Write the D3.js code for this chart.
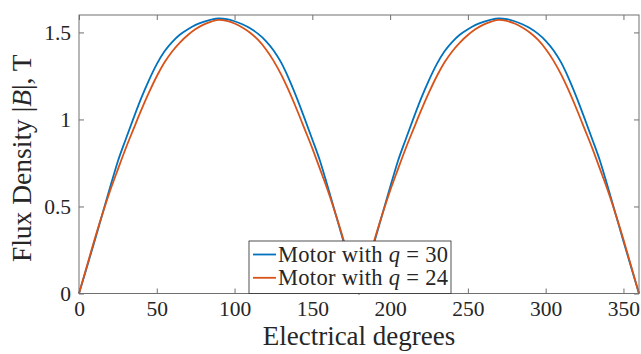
<!DOCTYPE html>
<html>
<head>
<meta charset="utf-8">
<script src="https://cdn.jsdelivr.net/npm/d3@7"></script>
<style>
  body { margin: 0; background: #fff; }
  svg { display: block; }
  svg text { font-family: "Liberation Serif", "DejaVu Serif", serif; }
</style>
</head>
<body>
<div id="plot"></div>
<script>
//Data;
const degrees = [
  0, 5, 10, 15, 20, 25, 30, 35, 40, 45, 50, 55, 60, 65, 70, 75, 80, 85, 90,
  95, 100, 105, 110, 115, 120, 125, 130, 135, 140, 145, 150, 155, 160, 165, 170, 175, 180,
  185, 190, 195, 200, 205, 210, 215, 220, 225, 230, 235, 240, 245, 250, 255, 260, 265, 270,
  275, 280, 285, 290, 295, 300, 305, 310, 315, 320, 325, 330, 335, 340, 345, 350, 355, 360
];
const fluxQ30 = [
  0, 0.15, 0.30, 0.455, 0.61, 0.76, 0.885, 1.006, 1.122, 1.226, 1.318, 1.392, 1.446, 1.488, 1.518, 1.543, 1.561, 1.574, 1.58,
  1.576, 1.564, 1.547, 1.524, 1.493, 1.452, 1.398, 1.326, 1.232, 1.124, 1.006, 0.885, 0.76, 0.61, 0.455, 0.30, 0.15, 0,
  0.15, 0.30, 0.455, 0.61, 0.76, 0.885, 1.006, 1.122, 1.226, 1.318, 1.392, 1.446, 1.488, 1.518, 1.543, 1.561, 1.574, 1.58,
  1.576, 1.564, 1.547, 1.524, 1.493, 1.452, 1.398, 1.326, 1.232, 1.124, 1.006, 0.885, 0.76, 0.61, 0.455, 0.30, 0.15, 0
];
const fluxQ24 = [
  0, 0.155, 0.31, 0.455, 0.59, 0.713, 0.833, 0.944, 1.053, 1.155, 1.248, 1.328, 1.392, 1.443, 1.485, 1.519, 1.545, 1.562, 1.572,
  1.566, 1.551, 1.528, 1.498, 1.458, 1.405, 1.338, 1.257, 1.162, 1.057, 0.946, 0.834, 0.713, 0.59, 0.455, 0.31, 0.155, 0,
  0.155, 0.31, 0.455, 0.59, 0.713, 0.833, 0.944, 1.053, 1.155, 1.248, 1.328, 1.392, 1.443, 1.485, 1.519, 1.545, 1.562, 1.572,
  1.566, 1.551, 1.528, 1.498, 1.458, 1.405, 1.338, 1.257, 1.162, 1.057, 0.946, 0.834, 0.713, 0.59, 0.455, 0.31, 0.155, 0
];
const xTicks = [0, 50, 100, 150, 200, 250, 300, 350];
const yTicks = [0, 0.5, 1, 1.5];
const seriesNames = ["30", "24"];
const seriesColors = ["#0072BD", "#D95319"];

//Set Height and Width Vars;
const w = 641;
const h = 354;
const padLeft = 79, padRight = 639, padTop = 15, padBottom = 293.5;
const serif = "'Liberation Serif', 'DejaVu Serif', serif";

//Initialize SVG;
const svg = d3.select("#plot")
  .append("svg")
    .attr("width", w)
    .attr("height", h);

svg.append("rect")
  .attr("width", w)
  .attr("height", h)
  .attr("fill", "#fff");

//Scales;
const xScale = d3.scaleLinear().domain([0, 360]).range([padLeft, padRight]);
const yScale = d3.scaleLinear().domain([0, 1.6]).range([padBottom, padTop]);

//Lines;
const series = [fluxQ30, fluxQ24];
const line = d3.line()
  .x(function(d, i) { return xScale(degrees[i]); })
  .y(function(d) { return yScale(d); })
  .curve(d3.curveMonotoneX);

svg.append("g")
  .attr("class", "plotArea")
  .selectAll("path")
  .data(series)
  .enter()
  .append("path")
    .attr("d", line)
    .attr("fill", "none")
    .attr("stroke", function(d, i) { return seriesColors[i]; })
    .attr("stroke-width", 1.8)
    .attr("stroke-linejoin", "round");

//Axes;
const axisColor = "#262626";
const xAxis = d3.axisBottom(xScale).tickValues(xTicks).tickFormat(d3.format("d"))
  .tickSizeInner(-5).tickSizeOuter(0).tickPadding(7);
const yAxis = d3.axisLeft(yScale).tickValues(yTicks).tickFormat(function(d) { return String(d); })
  .tickSizeInner(-5).tickSizeOuter(0).tickPadding(8);
const xTop = d3.axisTop(xScale).tickValues(xTicks).tickFormat("").tickSizeInner(-5).tickSizeOuter(0);
const yRight = d3.axisRight(yScale).tickValues(yTicks).tickFormat("").tickSizeInner(-5).tickSizeOuter(0);

const gx = svg.append("g").attr("transform", "translate(0," + padBottom + ")").call(xAxis);
const gy = svg.append("g").attr("transform", "translate(" + padLeft + ",0)").call(yAxis);
const gt = svg.append("g").attr("transform", "translate(0," + padTop + ")").call(xTop);
const gr = svg.append("g").attr("transform", "translate(" + padRight + ",0)").call(yRight);

[gx, gy, gt, gr].forEach(function(g) {
  g.attr("font-family", null).attr("font-size", null);
  g.select(".domain").remove();
  g.selectAll("line").attr("stroke", "#707070").attr("stroke-width", 1);
  g.selectAll("text")
    .attr("fill", axisColor)
    .style("font-family", serif)
    .style("font-size", "21.5px");
});

//Box;
svg.append("rect")
  .attr("x", padLeft)
  .attr("y", padTop)
  .attr("width", padRight - padLeft)
  .attr("height", padBottom - padTop)
  .attr("fill", "none")
  .attr("stroke", "#707070")
  .attr("stroke-width", 1);

//Axis Labels;
svg.append("text")
  .attr("x", (padLeft + padRight) / 2)
  .attr("y", 345)
  .attr("text-anchor", "middle")
  .style("font-family", serif)
  .style("font-size", "27px")
  .attr("fill", axisColor)
  .text("Electrical degrees");

const yLabel = svg.append("text")
  .attr("transform", "translate(31," + ((padTop + padBottom) / 2 + 4) + ") rotate(-90)")
  .attr("text-anchor", "middle")
  .style("font-family", serif)
  .style("font-size", "27.5px")
  .attr("fill", axisColor);
yLabel.append("tspan").text("Flux Density |");
yLabel.append("tspan").attr("font-style", "italic").text("B");
yLabel.append("tspan").text("|, T");

//Legend;
const legend = svg.append("g").attr("class", "legend");
legend.append("rect")
  .attr("x", 249)
  .attr("y", 241)
  .attr("width", 202)
  .attr("height", padBottom - 241)
  .attr("fill", "#fff")
  .attr("stroke", axisColor)
  .attr("stroke-width", 0.8);

const items = legend.selectAll("g.item")
  .data(seriesNames)
  .enter()
  .append("g")
    .attr("class", "item")
    .attr("transform", function(d, i) { return "translate(0," + (i * 23.3) + ")"; });

items.append("line")
  .attr("x1", 253)
  .attr("x2", 276)
  .attr("y1", 254.5)
  .attr("y2", 254.5)
  .attr("stroke", function(d, i) { return seriesColors[i]; })
  .attr("stroke-width", 1.8);

const itemText = items.append("text")
  .attr("x", 278)
  .attr("y", 262)
  .style("font-family", serif)
  .style("font-size", "22.5px")
  .style("letter-spacing", "0.3px")
  .attr("fill", axisColor);
itemText.append("tspan").text("Motor with ");
itemText.append("tspan").attr("font-style", "italic").text("q");
itemText.append("tspan").text(function(d) { return " = " + d; });
</script>
</body>
</html>
